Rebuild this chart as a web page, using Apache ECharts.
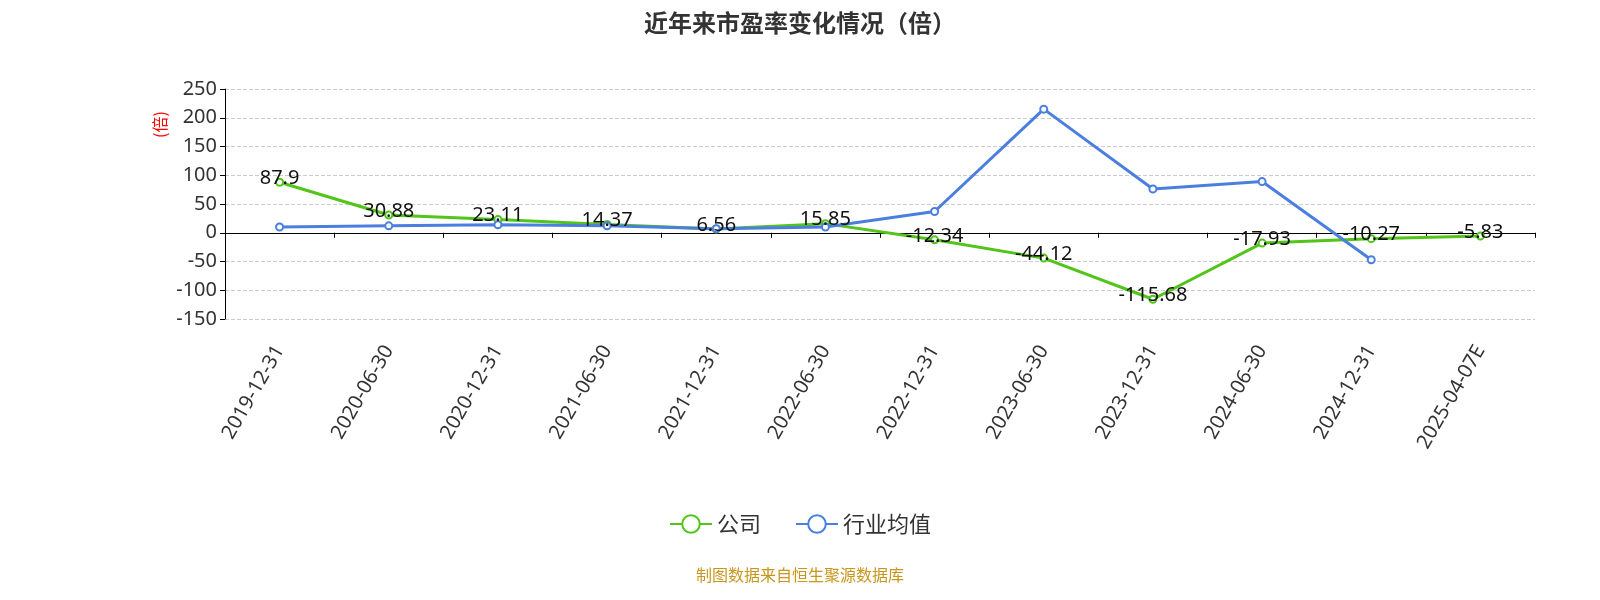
<!DOCTYPE html>
<html><head><meta charset="utf-8">
<script src="https://cdn.jsdelivr.net/npm/echarts@6/dist/echarts.min.js"></script>
<style>html,body{margin:0;padding:0;background:#fff}#c{width:1600px;height:600px}</style>
</head><body><div id="c"></div>
<script>
var categories=['2019-12-31','2020-06-30','2020-12-31','2021-06-30','2021-12-31','2022-06-30','2022-12-31','2023-06-30','2023-12-31','2024-06-30','2024-12-31','2025-04-07E'];
var company=[87.9,30.88,23.11,14.37,6.56,15.85,-12.34,-44.12,-115.68,-17.93,-10.27,-5.83];
var industry=[10,12,14,12,7,10,37,215,76,89,-47,null];
var chart=echarts.init(document.getElementById('c'));
chart.setOption({
 title:{text:'近年来市盈率变化情况（倍）',left:'center',top:6,textStyle:{fontSize:24,fontWeight:'bold',color:'#333',fontFamily:'Noto Sans CJK SC'}},
 graphic:[{type:'text',left:'center',top:567,style:{text:'制图数据来自恒生聚源数据库',fill:'#c8961e',fontSize:16,fontFamily:'Noto Sans CJK SC'}},
  {type:'text',x:152,y:138,rotation:Math.PI/2,style:{text:'(倍)',fill:'red',fontSize:16,fontFamily:'Noto Sans CJK SC'}}],
 legend:{top:508,itemWidth:42,itemHeight:22,itemGap:34,textStyle:{fontSize:22,color:'#333',fontFamily:'Noto Sans CJK SC'},data:['公司','行业均值']},
 grid:{left:225,right:65,top:89,bottom:281},
 xAxis:{type:'category',data:categories,boundaryGap:true,axisLine:{onZero:true,lineStyle:{color:'#000'}},axisTick:{show:true},
  axisLabel:{rotate:60,fontSize:20,color:'#333',interval:0,margin:28,fontFamily:'Noto Sans'}},
 yAxis:{type:'value',min:-150,max:250,interval:50,
  axisLine:{show:true,lineStyle:{color:'#000'}},axisTick:{show:true},axisLabel:{fontSize:20,color:'#333',fontFamily:'Noto Sans'},
  splitLine:{lineStyle:{type:'dashed',color:'#ccc'}}},
 series:[
  {name:'公司',type:'line',data:company,symbol:'emptyCircle',symbolSize:7,itemStyle:{color:'#52c41a'},lineStyle:{width:3,color:'#52c41a'},
   label:{show:true,position:'inside',offset:[0,-4],fontSize:20,color:'#111',fontFamily:'Noto Sans'}},
  {name:'行业均值',type:'line',data:industry,symbol:'emptyCircle',symbolSize:7,itemStyle:{color:'#4a7fe0'},lineStyle:{width:3,color:'#4a7fe0'}}
 ]
});
</script></body></html>
